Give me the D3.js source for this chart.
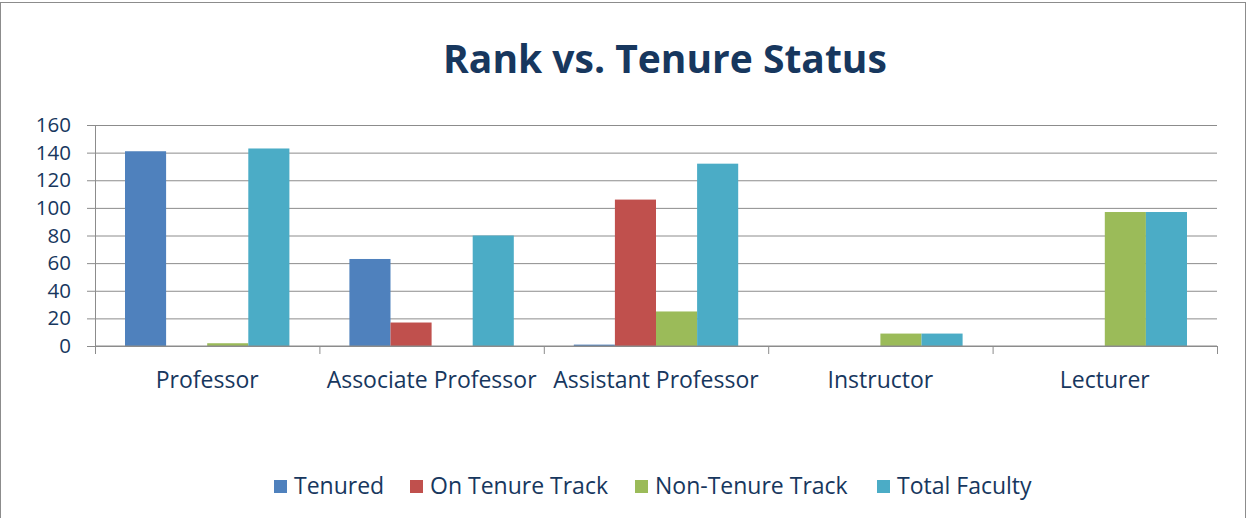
<!DOCTYPE html>
<meta charset="utf-8">
<html>
<head>
<title>Rank vs. Tenure Status</title>
<style>
  body { margin: 0; background: #fff; }
  text { font-family: "Open Sans", sans-serif; fill: #17375E; }
  .grid line { stroke: #8c8c8c; stroke-width: 1; }
  .grid path { display: none; }
  .title { font-weight: bold; font-size: 39px; }
</style>
<script src="https://d3js.org/d3.v7.min.js"></script>
</head>
<body>
<svg width="1247" height="518"></svg>
<script>
  // Data
  var categories = ["Professor", "Associate Professor", "Assistant Professor", "Instructor", "Lecturer"];
  var seriesNames = ["Tenured", "On Tenure Track", "Non-Tenure Track", "Total Faculty"];
  var tenured = [141, 63, 1, 0, 0];
  var onTrack = [0, 17, 106, 0, 0];
  var nonTenure = [2, 0, 25, 9, 97];
  var totalFaculty = [143, 80, 132, 9, 97];
  var yTicks = [0, 20, 40, 60, 80, 100, 120, 140, 160];
  var colors = ["#4F81BD", "#C0504D", "#9BBB59", "#4BACC6"];

  var seriesValues = [tenured, onTrack, nonTenure, totalFaculty];

  var svg = d3.select("svg");

  // chart frame
  svg.append("rect")
      .attr("x", 0.5).attr("y", 2.5)
      .attr("width", 1245).attr("height", 530)
      .attr("fill", "none").attr("stroke", "#8c8c8c");

  svg.append("text")
      .attr("class", "title")
      .attr("x", 665).attr("y", 73)
      .attr("text-anchor", "middle")
      .text("Rank vs. Tenure Status");

  var plotLeft = 95, plotRight = 1217, plotTop = 125, plotBottom = 346;

  var x0 = d3.scaleBand().domain(categories).range([plotLeft, plotRight]);
  var x1 = d3.scaleBand().domain(seriesNames).range([30, x0.bandwidth() - 30]);
  var y = d3.scaleLinear().domain([0, 160]).range([plotBottom, plotTop]);

  // gridlines
  svg.append("g")
      .attr("class", "grid")
      .attr("transform", "translate(" + plotLeft + ",0)")
      .call(d3.axisLeft(y).tickValues(yTicks).tickSize(-(plotRight - plotLeft)).tickFormat(""))
      .selectAll("line").attr("x1", -8);

  // y labels
  svg.append("g").selectAll("text")
      .data(yTicks)
      .enter().append("text")
      .attr("x", 71).attr("y", function (d) { return y(d) + 7; })
      .attr("text-anchor", "end")
      .style("font-size", "20.5px")
      .text(function (d) { return d; });

  // value axis line
  svg.append("line")
      .attr("x1", plotLeft + 0.5).attr("x2", plotLeft + 0.5)
      .attr("y1", plotTop).attr("y2", plotBottom + 7)
      .attr("stroke", "#8c8c8c");

  // bars
  var groups = svg.append("g").selectAll("g")
      .data(categories)
      .enter().append("g")
      .attr("transform", function (d) { return "translate(" + x0(d) + ",0)"; });

  groups.selectAll("rect")
      .data(function (d, i) {
        return seriesNames.map(function (s, j) { return { key: s, value: seriesValues[j][i], j: j }; });
      })
      .enter().append("rect")
      .attr("x", function (d) { return x1(d.key); })
      .attr("width", x1.bandwidth())
      .attr("y", function (d) { return y(d.value); })
      .attr("height", function (d) { return plotBottom - y(d.value); })
      .attr("fill", function (d) { return colors[d.j]; });

  // category axis
  var xAxis = svg.append("g")
      .attr("transform", "translate(0," + plotBottom + ")");
  xAxis.append("line")
      .attr("x1", plotLeft).attr("x2", plotRight)
      .attr("stroke", "#8c8c8c");
  xAxis.selectAll(".tk")
      .data(categories.concat(["end"]))
      .enter().append("line")
      .attr("x1", function (d, i) { return plotLeft + i * x0.step() + 0.5; })
      .attr("x2", function (d, i) { return plotLeft + i * x0.step() + 0.5; })
      .attr("y1", 0).attr("y2", 8)
      .attr("stroke", "#8c8c8c");
  xAxis.selectAll("text")
      .data(categories)
      .enter().append("text")
      .attr("x", function (d) { return x0(d) + x0.bandwidth() / 2; })
      .attr("y", 42)
      .attr("text-anchor", "middle")
      .style("font-size", "23px")
      .text(function (d) { return d; });

  // legend
  var legendX = [274, 410, 635, 877];
  var legend = svg.append("g").selectAll("g")
      .data(seriesNames)
      .enter().append("g")
      .attr("transform", function (d, i) { return "translate(" + legendX[i] + ",480)"; });
  legend.append("rect")
      .attr("width", 13).attr("height", 13)
      .attr("fill", function (d, i) { return colors[i]; });
  legend.append("text")
      .attr("x", 20).attr("y", 14)
      .style("font-size", "23px")
      .text(function (d) { return d; });
</script>
</body>
</html>
